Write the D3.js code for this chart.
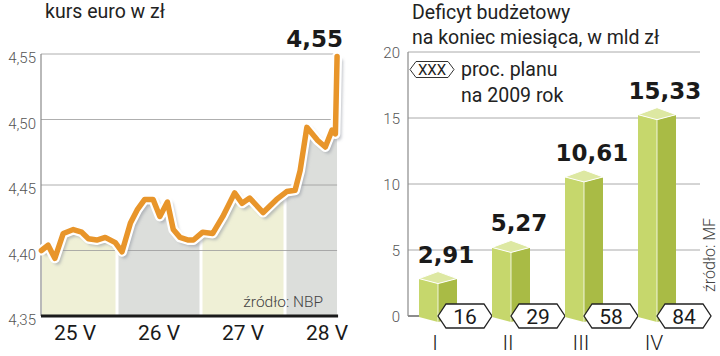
<!DOCTYPE html>
<html><head><meta charset="utf-8">
<script src="https://cdn.jsdelivr.net/npm/d3@7"></script>
<style>
body{margin:0;background:#fff;}
svg{display:block;font-family:Roboto, "Noto Sans", sans-serif;}
</style></head>
<body><svg id="c" width="720" height="356"></svg>
<script>
// ---- data: left chart (EUR rate) ----
const days = ["25 V","26 V","27 V","28 V"];
const eurT = [0.10,0.18,0.26,0.36,0.48,0.58,0.66,0.76,0.86,0.98,1.06,1.16,1.24,1.33,1.43,1.51,1.60,1.67,1.75,1.85,1.91,2.02,2.14,2.26,2.40,2.49,2.58,2.74,2.90,3.02,3.12,3.18,3.26,3.39,3.48,3.56,3.60,3.62];
const eurV = [4.400,4.404,4.394,4.413,4.416,4.414,4.409,4.408,4.410,4.406,4.399,4.421,4.431,4.439,4.439,4.426,4.437,4.416,4.410,4.408,4.408,4.414,4.413,4.426,4.444,4.436,4.440,4.429,4.439,4.445,4.446,4.461,4.494,4.484,4.479,4.492,4.489,4.548];
const eurTicks = [4.35,4.40,4.45,4.50,4.55];
const eurLast = "4,55";
// ---- data: right chart (deficit) ----
const months = ["I","II","III","IV"];
const deficit = [2.91,5.27,10.61,15.33];
const planPct = [16,29,58,84];
const defTicks = [0,5,10,15,20];

const fmt = v => v.toFixed(2).replace(".", ",");
const svg = d3.select("#c");
const defs = svg.append("defs");
defs.append("filter").attr("id","blur").append("feGaussianBlur").attr("stdDeviation",1.6);

// ================= LEFT CHART =================
const x = d3.scaleLinear().domain([0,4]).range([33,369]);
const y = d3.scaleLinear().domain([4.35,4.55]).range([316,54]);
const xL = 41, xR = x(eurT[eurT.length-1]);
const L = svg.append("g");

L.append("text").attr("x",45).attr("y",18).attr("font-size",19.5).attr("fill","#222").text("kurs euro w zł");

// area under line clipped by day bands
const area = d3.area().x((d,i)=>x(eurT[i])).y0(y(4.35)).y1(d=>y(d)).curve(d3.curveLinear);
const bandCols = ["#eff0d6","#dcdedb"];
days.forEach((d,i)=>{
  const a = Math.max(x(i), xL) + (i===0?1:1.5);
  const b = Math.min(x(i+1), xR) - (i===days.length-1?0:1.5);
  defs.append("clipPath").attr("id","cb"+i).append("rect")
    .attr("x",a).attr("y",0).attr("width",b-a).attr("height",y(4.35)-0.5);
  L.append("path").datum(eurV).attr("d",area).attr("fill",bandCols[i%2]).attr("clip-path","url(#cb"+i+")");
});

// gridlines
L.selectAll(".g").data(eurTicks.slice(1)).join("line")
  .attr("x1",xL).attr("x2",xR).attr("y1",d=>y(d)).attr("y2",d=>y(d))
  .attr("stroke","#9a9a9a").attr("stroke-width",0.8);
// y axis line
L.append("line").attr("x1",xL).attr("x2",xL).attr("y1",y(4.55)).attr("y2",y(4.35)).attr("stroke","#8a8a8a").attr("stroke-width",1.2);
// tick labels
L.selectAll(".t").data(eurTicks).join("text")
  .attr("x",36).attr("y",d=>y(d)+9).attr("text-anchor","end")
  .attr("font-size",15).attr("font-weight",300).attr("fill","#555")
  .text(d=>d.toFixed(2).replace(".",","));

// source
L.append("text").attr("x",323).attr("y",307).attr("text-anchor","end").attr("font-size",15.5).attr("font-weight",300).attr("fill","#444").text("źródło: NBP");

// line
const line = d3.line().x((d,i)=>x(eurT[i])).y(d=>y(d)).curve(d3.curveLinear);
L.append("path").datum(eurV).attr("d",line).attr("fill","none").attr("stroke","#8a8f9a").attr("stroke-opacity",0.55)
  .attr("stroke-width",7).attr("transform","translate(2.5,3)").attr("filter","url(#blur)").attr("stroke-linejoin","round");
L.append("path").datum(eurV).attr("d",line).attr("fill","none").attr("stroke","#fff").attr("stroke-width",10).attr("stroke-linejoin","round").attr("stroke-linecap","round");
L.append("path").datum(eurV).attr("d",line).attr("fill","none").attr("stroke","#e8952a").attr("stroke-width",5.5).attr("stroke-linejoin","round").attr("stroke-linecap","round");

// baseline
L.append("line").attr("x1",xL).attr("x2",xR+1).attr("y1",y(4.35)).attr("y2",y(4.35)).attr("stroke","#1a1a1a").attr("stroke-width",3);
// day labels
L.selectAll(".d").data(days).join("text")
  .attr("x",(d,i)=>x(i+0.5)).attr("y",340).attr("text-anchor","middle")
  .attr("font-size",21).attr("fill","#1a1a1a").text(d=>d);
// last value
L.append("text").attr("x",343).attr("y",47).attr("text-anchor","end")
  .attr("font-family","'DejaVu Sans'").attr("font-weight","bold").attr("font-size",23).attr("fill","#1a1a1a").text(eurLast);

// ================= RIGHT CHART =================
const R = svg.append("g");
const yr = d3.scaleLinear().domain([0,20]).range([316,52]);
const xr = d3.scalePoint().domain(months).range([438,657]);
const ax = 408, axR = 700;

R.append("text").attr("x",412).attr("y",19).attr("font-size",19.5).attr("fill","#222").text("Deficyt budżetowy");
R.append("text").attr("x",412).attr("y",44).attr("font-size",19.5).attr("fill","#222").text("na koniec miesiąca, w mld zł");

R.selectAll(".g").data(defTicks).join("line")
  .attr("x1",ax).attr("x2",d=>d===0?ax+12:axR).attr("y1",d=>yr(d)).attr("y2",d=>yr(d))
  .attr("stroke",d=>d===0?"#666":"#aaa").attr("stroke-width",d=>d===0?1.5:1);
R.append("line").attr("x1",ax).attr("x2",ax).attr("y1",yr(20)).attr("y2",yr(0)).attr("stroke","#8a8a8a").attr("stroke-width",1.2);
R.selectAll(".t").data(defTicks).join("text")
  .attr("x",400).attr("y",d=>yr(d)+6).attr("text-anchor","end")
  .attr("font-size",15).attr("font-weight",300).attr("fill","#555").text(d=>d);

// legend
const hex = (g,cx,cy,w,h,p) => g.append("path")
  .attr("d",`M${cx-w/2},${cy} L${cx-w/2+p},${cy-h/2} L${cx+w/2-p},${cy-h/2} L${cx+w/2},${cy} L${cx+w/2-p},${cy+h/2} L${cx-w/2+p},${cy+h/2} Z`);
hex(R,432,69.5,44,16,6).attr("fill","#fff").attr("stroke","#333").attr("stroke-width",1);
R.append("text").attr("x",432).attr("y",75).attr("text-anchor","middle").attr("font-size",15).attr("fill","#222").text("XXX");
R.append("text").attr("x",461).attr("y",76).attr("font-size",19.5).attr("fill","#222").text("proc. planu");
R.append("text").attr("x",461).attr("y",102).attr("font-size",19.5).attr("fill","#222").text("na 2009 rok");

// source (vertical)
R.append("text").attr("transform","translate(715,292) rotate(-90)").attr("font-size",16).attr("font-weight",300).attr("fill","#444").text("źródło: MF");

// bars
const hw = 19;
months.forEach((m,i)=>{
  const cx = xr(m), yv = yr(deficit[i]), y0 = yr(0);
  const g = R.append("g");
  g.append("path").attr("d",`M${cx-hw},${yv+1} L${cx},${yv+6} L${cx},${y0+6} L${cx-hw},${y0+1} Z`).attr("fill","#c6d76c");
  g.append("path").attr("d",`M${cx},${yv+6} L${cx+hw},${yv+1} L${cx+hw},${y0+1} L${cx},${y0+6} Z`).attr("fill","#a9bb45");
  g.append("line").attr("x1",cx).attr("x2",cx).attr("y1",yv+6).attr("y2",y0+6).attr("stroke","#fff").attr("stroke-width",0.8);
  g.append("path").attr("d",`M${cx-hw},${yv+1} L${cx},${yv-6} L${cx+hw},${yv+1} L${cx},${yv+6} Z`).attr("fill","#dde8a2").attr("stroke","#fff").attr("stroke-width",1);
  g.append("text").attr("x",cx+8).attr("y",yv-15).attr("text-anchor","middle")
    .attr("font-family","'DejaVu Sans'").attr("font-weight","bold").attr("font-size",23).attr("fill","#1a1a1a").text(fmt(deficit[i]));
  hex(R,cx+27,yr(0),54,24,8).attr("fill","#fff").attr("stroke","#222").attr("stroke-width",1.3);
  R.append("text").attr("x",cx+27).attr("y",yr(0)+7.5).attr("text-anchor","middle").attr("font-size",21).attr("fill","#1a1a1a").text(planPct[i]);
  R.append("text").attr("x",cx-3).attr("y",350).attr("text-anchor","middle").attr("font-size",21).attr("font-weight",300).attr("fill","#1a1a1a").text(m);
});
</script></body></html>
